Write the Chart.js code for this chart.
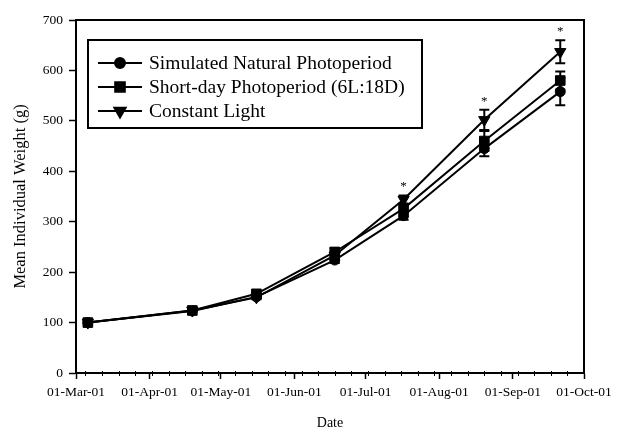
<!DOCTYPE html>
<html>
<head>
<meta charset="utf-8">
<script src="https://cdn.jsdelivr.net/npm/chart.js@4/dist/chart.umd.min.js"></script>
<style>
  html, body { margin: 0; padding: 0; background: #fff; }
  #wrap { width: 617px; height: 434px; }
</style>
</head>
<body>
<div id="wrap"><canvas id="growth" width="617" height="434"></canvas></div>
<script>
// --- Data ---
const startDate = '2001-03-01';
const sampleDates = ['2001-03-06', '2001-04-19', '2001-05-16', '2001-06-18', '2001-07-17', '2001-08-20', '2001-09-21'];

const seriesNames = ['Simulated Natural Photoperiod', 'Short-day Photoperiod (6L:18D)', 'Constant Light'];
const naturalWeight = [100, 123, 151, 224, 312, 445, 558];
const naturalErr    = [3, 3, 4, 6, 8, 15, 27];
const shortDayWeight = [100, 124, 157, 240, 326, 460, 580];
const shortDayErr    = [3, 3, 4, 8, 8, 20, 18];
const constantWeight = [100, 124, 150, 233, 344, 502, 637];
const constantErr    = [3, 3, 4, 8, 8, 20, 23];

// significant difference marks (*) per sample date
const significant = [false, false, false, false, true, true, true];

const monthTickDates = ['2001-03-01', '2001-04-01', '2001-05-01', '2001-06-01', '2001-07-01', '2001-08-01', '2001-09-01', '2001-10-01'];
const monthTickLabels = ['01-Mar-01', '01-Apr-01', '01-May-01', '01-Jun-01', '01-Jul-01', '01-Aug-01', '01-Sep-01', '01-Oct-01'];
const yTicks = [0, 100, 200, 300, 400, 500, 600, 700];

const SERIF = '"Liberation Serif", "Times New Roman", serif';

function dayOf(s) {
  return (Date.parse(s) - Date.parse(startDate)) / 86400000;
}

const xDays = sampleDates.map(dayOf);
const toPoints = vals => vals.map((v, i) => ({ x: xDays[i], y: v }));

const markerStyles = [
  { pointStyle: 'circle', pointRadius: 5, rotation: 0 },
  { pointStyle: 'rect', pointRadius: 6.8, rotation: 0 },
  { pointStyle: 'triangle', pointRadius: 6.5, rotation: 180 },
];
const seriesValues = [naturalWeight, shortDayWeight, constantWeight];
const seriesErrors = [naturalErr, shortDayErr, constantErr];

const datasets = seriesValues.map((vals, i) => ({
  label: seriesNames[i],
  data: toPoints(vals),
  errors: seriesErrors[i],
  borderColor: '#000',
  backgroundColor: '#000',
  borderWidth: 2,
  pointStyle: markerStyles[i].pointStyle,
  pointRadius: markerStyles[i].pointRadius,
  pointRotation: markerStyles[i].rotation,
  pointBorderWidth: 1,
  pointBackgroundColor: '#000',
  pointBorderColor: '#000',
  tension: 0,
}));

// --- plot frame, minor ticks, error bars ---
const framePlugin = {
  id: 'frame',
  beforeDatasetsDraw(chart) {
    const { ctx, chartArea: a, scales } = chart;
    ctx.save();
    ctx.strokeStyle = '#000';
    ctx.lineWidth = 2;
    ctx.strokeRect(a.left, a.top, a.right - a.left, a.bottom - a.top);

    // weekly minor ticks (Mondays)
    ctx.lineWidth = 1;
    const first = dayOf('2001-03-05');
    const last = dayOf(monthTickDates[monthTickDates.length - 1]);
    for (let d = first; d < last; d += 7) {
      const px = Math.round(scales.x.getPixelForValue(d)) + 0.5;
      ctx.beginPath();
      ctx.moveTo(px, a.bottom - 2);
      ctx.lineTo(px, a.bottom + 3);
      ctx.stroke();
    }

    // error bars
    ctx.lineWidth = 2;
    chart.data.datasets.forEach(ds => {
      ds.data.forEach((p, i) => {
        const e = ds.errors[i];
        if (!e || e < 4) return;
        const px = scales.x.getPixelForValue(p.x);
        const top = scales.y.getPixelForValue(p.y + e);
        const bot = scales.y.getPixelForValue(p.y - e);
        ctx.beginPath();
        ctx.moveTo(px, top); ctx.lineTo(px, bot);
        ctx.moveTo(px - 5, top); ctx.lineTo(px + 5, top);
        ctx.moveTo(px - 5, bot); ctx.lineTo(px + 5, bot);
        ctx.stroke();
      });
    });
    ctx.restore();
  },
  afterDatasetsDraw(chart) {
    const { ctx, scales } = chart;
    ctx.save();
    ctx.fillStyle = '#000';
    ctx.font = '13px ' + SERIF;
    ctx.textAlign = 'center';
    ctx.textBaseline = 'alphabetic';
    significant.forEach((sig, i) => {
      if (!sig) return;
      let maxTop = -Infinity;
      seriesValues.forEach((vals, k) => { maxTop = Math.max(maxTop, vals[i] + seriesErrors[k][i]); });
      const px = scales.x.getPixelForValue(xDays[i]);
      const py = scales.y.getPixelForValue(maxTop);
      ctx.fillText('*', px, py - 5);
    });
    ctx.restore();
  },
};

// --- boxed legend with line + marker samples ---
const boxLegend = {
  id: 'boxLegend',
  afterDraw(chart) {
    const { ctx } = chart;
    const box = { left: 88, top: 40, right: 422, bottom: 128 };
    const rowY = [63, 87, 111];
    ctx.save();
    ctx.fillStyle = '#fff';
    ctx.fillRect(box.left, box.top, box.right - box.left, box.bottom - box.top);
    ctx.strokeStyle = '#000';
    ctx.lineWidth = 2;
    ctx.strokeRect(box.left, box.top, box.right - box.left, box.bottom - box.top);

    chart.data.datasets.forEach((ds, i) => {
      const y = rowY[i];
      ctx.strokeStyle = '#000';
      ctx.lineWidth = 2;
      ctx.beginPath();
      ctx.moveTo(98, y);
      ctx.lineTo(142, y);
      ctx.stroke();
      ctx.fillStyle = '#000';
      Chart.helpers.drawPoint(ctx, {
        pointStyle: ds.pointStyle,
        radius: ds.pointRadius,
        rotation: ds.pointRotation,
        borderWidth: 1,
      }, 120, y);
      ctx.fillStyle = '#000';
      ctx.font = '19.5px ' + SERIF;
      ctx.textAlign = 'left';
      ctx.textBaseline = 'middle';
      ctx.fillText(ds.label, 149, y + 1);
    });
    ctx.restore();
  },
};

new Chart(document.getElementById('growth'), {
  type: 'line',
  data: { datasets },
  options: {
    responsive: false,
    animation: false,
    devicePixelRatio: 1,
    layout: { padding: { left: 0, top: 20, right: 33, bottom: 0 } },
    plugins: {
      legend: { display: false },
      tooltip: { enabled: false },
    },
    scales: {
      x: {
        type: 'linear',
        min: dayOf(monthTickDates[0]),
        max: dayOf(monthTickDates[monthTickDates.length - 1]),
        afterBuildTicks: scale => {
          scale.ticks = monthTickDates.map(d => ({ value: dayOf(d) }));
        },
        afterFit: scale => { scale.height = 61; },
        border: { display: true, color: '#000', width: 2 },
        grid: { display: true, drawOnChartArea: false, drawTicks: true, tickLength: 6, tickColor: '#000', tickWidth: 1.5 },
        ticks: {
          autoSkip: false,
          maxRotation: 0,
          padding: 5,
          color: '#000',
          font: { family: SERIF, size: 13.5 },
          callback: (v, i) => monthTickLabels[i],
        },
        title: {
          display: true,
          text: 'Date',
          color: '#000',
          font: { family: SERIF, size: 14 },
          padding: { top: 0, bottom: 2.6 },
        },
      },
      y: {
        min: yTicks[0],
        max: yTicks[yTicks.length - 1],
        afterBuildTicks: scale => {
          scale.ticks = yTicks.map(v => ({ value: v }));
        },
        afterFit: scale => { scale.width = 76; },
        border: { display: true, color: '#000', width: 2 },
        grid: { display: true, drawOnChartArea: false, drawTicks: true, tickLength: 7, tickColor: '#000', tickWidth: 1.5 },
        ticks: {
          padding: 6,
          color: '#000',
          font: { family: SERIF, size: 13.5 },
        },
        title: {
          display: true,
          text: 'Mean Individual Weight (g)',
          color: '#000',
          font: { family: SERIF, size: 16.5 },
          padding: { top: 11, bottom: 0 },
        },
      },
    },
  },
  plugins: [framePlugin, boxLegend],
});
</script>
</body>
</html>
